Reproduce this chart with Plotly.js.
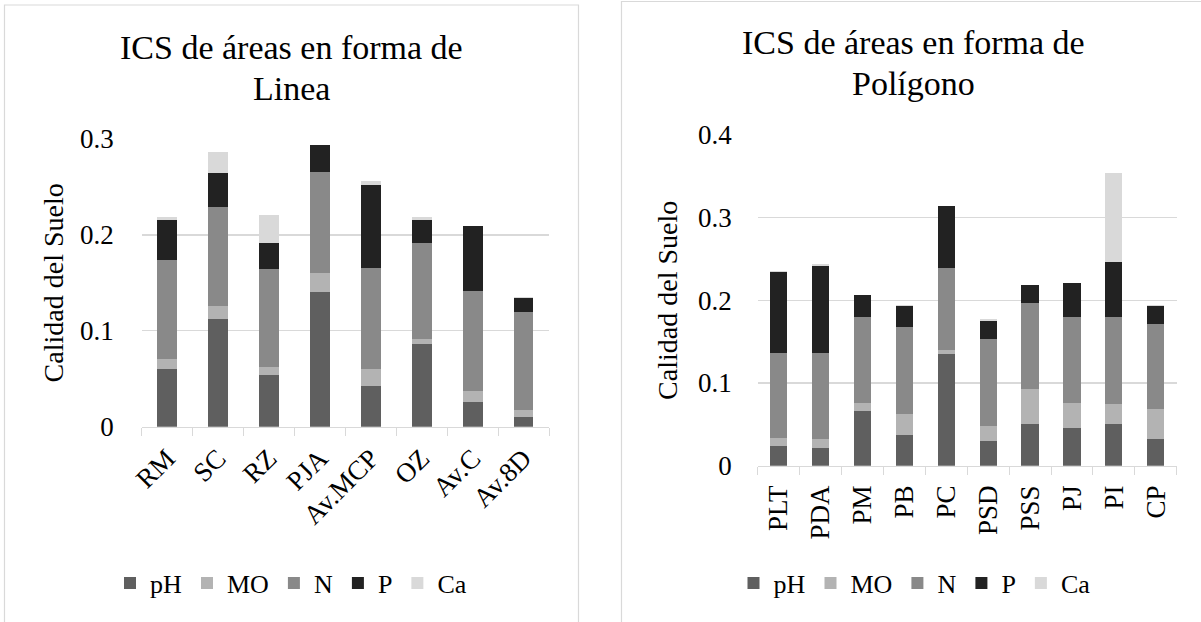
<!DOCTYPE html>
<html>
<head>
<meta charset="utf-8">
<script src="https://cdn.plot.ly/plotly-3.0.1.min.js"></script>
<style>
  html, body { margin: 0; padding: 0; background: #ffffff; }
  #chart { width: 1201px; height: 622px; }
</style>
</head>
<body>
<div id="chart"></div>
<script>
// Áreas en forma de línea
const lineaSitios = ["RM", "SC", "RZ", "PJA", "Av.MCP", "OZ", "Av.C", "Av.8D"];
const lineaPH = [0.0600, 0.1126, 0.0542, 0.1404, 0.0428, 0.0862, 0.0261, 0.0104];
const lineaMO = [0.0102, 0.0136, 0.0080, 0.0202, 0.0173, 0.0052, 0.0111, 0.0070];
const lineaN  = [0.1036, 0.1032, 0.1022, 0.1050, 0.1050, 0.1001, 0.1043, 0.1022];
const lineaP  = [0.0420, 0.0351, 0.0275, 0.0285, 0.0869, 0.0240, 0.0677, 0.0149];
const lineaCa = [0.0025, 0.0216, 0.0292, 0.0000, 0.0045, 0.0035, 0.0000, 0.0007];

// Áreas en forma de polígono
const poligonoSitios = ["PLT", "PDA", "PM", "PB", "PC", "PSD", "PSS", "PJ", "PI", "CP"];
const poligonoPH = [0.0238, 0.0214, 0.0661, 0.0371, 0.1350, 0.0298, 0.0500, 0.0455, 0.0508, 0.0322];
const poligonoMO = [0.0093, 0.0112, 0.0093, 0.0254, 0.0049, 0.0182, 0.0427, 0.0303, 0.0238, 0.0367];
const poligonoN  = [0.1027, 0.1040, 0.1044, 0.1052, 0.0991, 0.1048, 0.1044, 0.1040, 0.1048, 0.1024];
const poligonoP  = [0.0988, 0.1052, 0.0270, 0.0258, 0.0754, 0.0225, 0.0214, 0.0415, 0.0665, 0.0222];
const poligonoCa = [0.0008, 0.0025, 0.0000, 0.0012, 0.0000, 0.0020, 0.0000, 0.0000, 0.1084, 0.0008];

const componentes = ["pH", "MO", "N", "P", "Ca"];
const colores = ["#5f5f5f", "#b3b3b3", "#898989", "#222222", "#d9d9d9"];

const W = 1201, H = 622;
const px = v => v / W;          // horizontal pixel -> paper
const py = v => 1 - v / H;      // vertical pixel (from top) -> paper

const FONT = "Liberation Serif";

function serie(nombre, idx, x, y, xa, ya, leg, ancho) {
  return {
    type: "bar", name: nombre, x: x, y: y,
    xaxis: xa, yaxis: ya, legend: leg,
    width: ancho,
    marker: { color: colores[idx], line: { width: 0 } },
    hoverinfo: "x+y+name"
  };
}

const lineaVals = [lineaPH, lineaMO, lineaN, lineaP, lineaCa];
const poligonoVals = [poligonoPH, poligonoMO, poligonoN, poligonoP, poligonoCa];

const data = [];
componentes.forEach((c, i) => data.push(serie(c, i, lineaSitios, lineaVals[i], "x", "y", "legend", 0.39)));
componentes.forEach((c, i) => data.push(serie(c, i, poligonoSitios, poligonoVals[i], "x2", "y2", "legend2", 0.41)));

const grid = "#d9d9d9";
const tickFont = () => ({ family: FONT, size: 27, color: "#000000" });

function ejeX(dominio, angulo, anclaY, standoff) {
  return {
    domain: dominio, anchor: anclaY, type: "category",
    showgrid: false, zeroline: false,
    showline: true, linecolor: grid, linewidth: 1,
    ticks: "outside", tickson: "boundaries", ticklen: 8, tickcolor: grid, tickwidth: 1,
    tickangle: angulo, tickfont: tickFont(), ticklabelstandoff: standoff,
    fixedrange: true
  };
}
function ejeY(dominio, rango, anclaX, separacion, standoff) {
  return {
    domain: dominio, anchor: anclaX, range: rango,
    tick0: 0, dtick: 0.1, showgrid: true, gridcolor: grid, gridwidth: 1.2,
    zeroline: false, showline: false, ticks: "",
    tickfont: tickFont(), ticklabelstandoff: separacion,
    title: { text: "Calidad del Suelo", font: { family: FONT, size: 28, color: "#000000" }, standoff: standoff },
    fixedrange: true
  };
}

function linea(texto, x, yBase) {
  return {
    text: texto, xref: "paper", yref: "paper",
    x: px(x), y: py(yBase - 11), xanchor: "center", yanchor: "middle",
    showarrow: false, font: { family: FONT, size: 34, color: "#000000" }
  };
}

function leyenda(x) {
  return {
    orientation: "h", xanchor: "center", yanchor: "middle", x: x, y: py(583),
    traceorder: "normal", font: { family: FONT, size: 26, color: "#000000" },
    bgcolor: "rgba(0,0,0,0)", itemclick: false, itemdoubleclick: false
  };
}

const layout = {
  width: W, height: H,
  margin: { l: 0, r: 0, t: 0, b: 0 },
  paper_bgcolor: "#ffffff", plot_bgcolor: "#ffffff",
  barmode: "stack",
  font: { family: FONT, size: 26, color: "#000000" },
  xaxis: ejeX([px(141.7), px(549)], -45, "y", 4),
  yaxis: ejeY([py(426.7), py(139)], [0, 0.3], "x", 27, 8),
  xaxis2: ejeX([px(757.7), px(1176.7)], -90, "y2", 8),
  yaxis2: ejeY([py(465.7), py(135)], [0, 0.4], "x2", 25, 12),
  legend: leyenda(px(291)),
  legend2: leyenda(px(914.5)),
  annotations: [
    linea("ICS de áreas en forma de", 291, 58.3),
    linea("Linea", 291.5, 99),
    linea("ICS de áreas en forma de", 913.6, 54),
    linea("Polígono", 913.7, 95)
  ],
  shapes: [
    { type: "rect", xref: "paper", yref: "paper", layer: "below",
      x0: px(4.5), x1: px(578.5), y0: -0.2, y1: py(5),
      line: { color: grid, width: 1.2 }, fillcolor: "rgba(0,0,0,0)" },
    { type: "rect", xref: "paper", yref: "paper", layer: "below",
      x0: px(621.5), x1: 1.2, y0: -0.2, y1: py(1.5),
      line: { color: grid, width: 1.2 }, fillcolor: "rgba(0,0,0,0)" }
  ],
  showlegend: true
};

Plotly.newPlot("chart", data, layout, { displayModeBar: false, staticPlot: true });
</script>
</body>
</html>
